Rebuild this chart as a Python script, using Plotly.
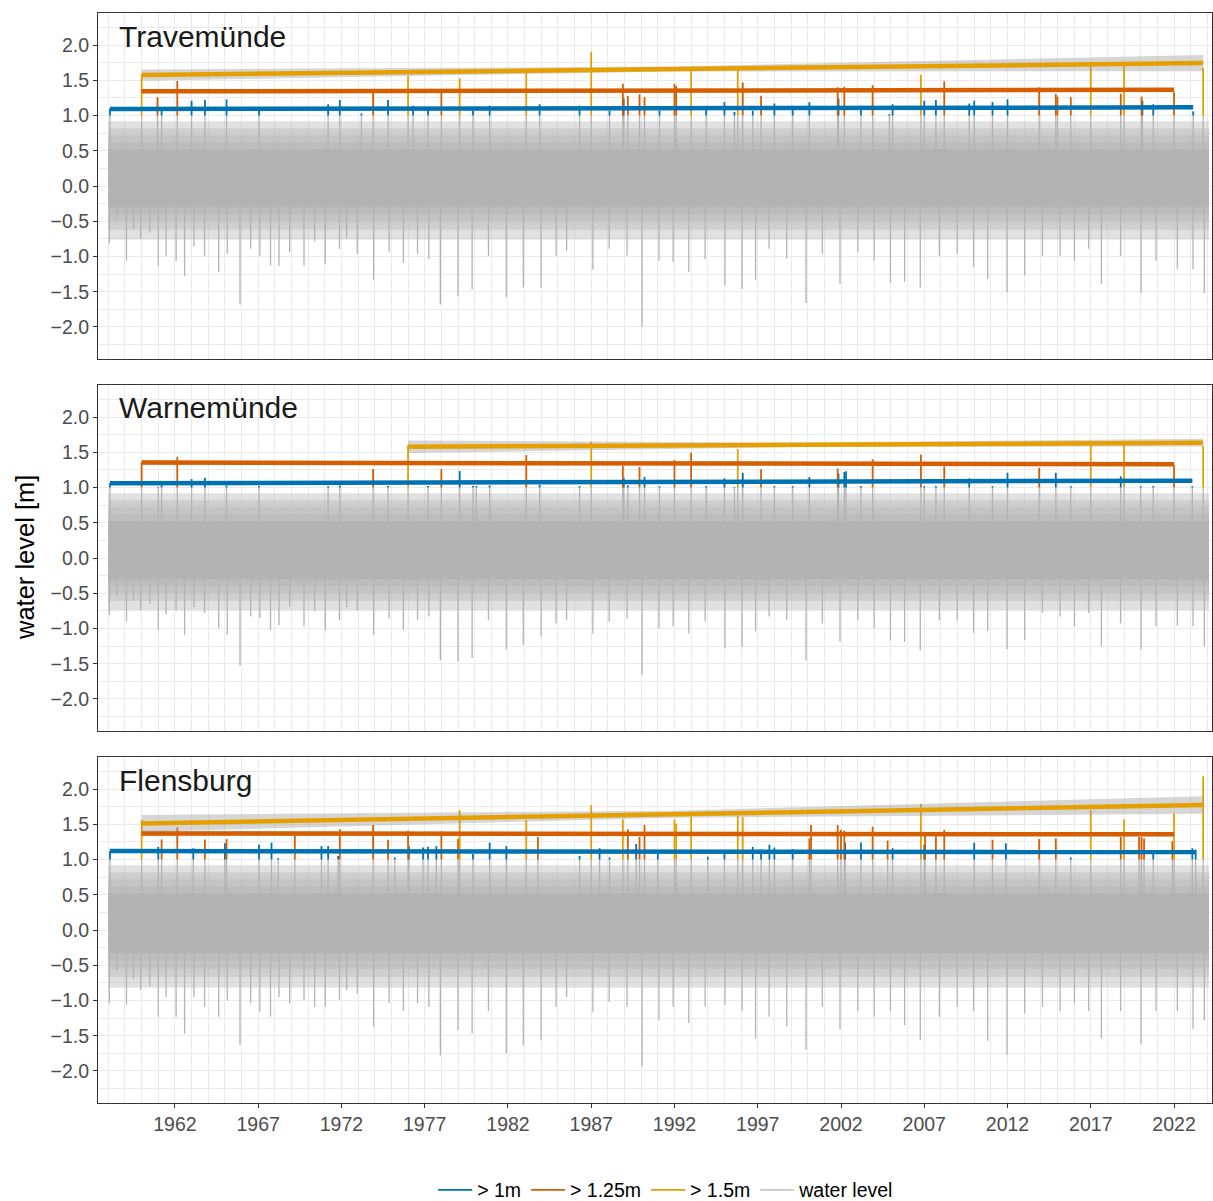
import plotly.graph_objects as go
from plotly.subplots import make_subplots

# ---------------- data ----------------
STATIONS = ["Travemünde", "Warnemünde", "Flensburg"]
X_TICKS = [1962, 1967, 1972, 1977, 1982, 1987, 1992, 1997, 2002, 2007, 2012, 2017, 2022]
SERIES_SPAN = [1958.0, 2024.1]
THRESHOLD = 1.0
CLASS_BREAKS = [1.25, 1.5]
CLASS_NAMES = ["> 1m", "> 1.25m", "> 1.5m"]

# time of the notable low-water spikes (shared reading grid)
low_t = [1958.06, 1958.53, 1959.09, 1959.51, 1959.94, 1960.49, 1961.00, 1961.47, 1962.07, 1962.58,
         1963.14, 1963.78, 1964.63, 1965.14, 1965.91, 1966.55, 1967.10, 1967.74, 1968.25, 1968.89,
         1969.75, 1970.39, 1971.03, 1971.88, 1972.31, 1972.95, 1973.93, 1974.86, 1975.72, 1976.57,
         1977.25, 1977.94, 1979.00, 1979.85, 1980.83, 1981.90, 1982.92, 1983.99, 1984.89, 1985.52,
         1987.10, 1988.08, 1989.15, 1990.05, 1991.07, 1991.92, 1992.86, 1993.84, 1995.03, 1996.06,
         1996.87, 1997.68, 1998.74, 1999.90, 2000.88, 2001.94, 2003.01, 2003.99, 2004.97, 2005.82,
         2006.76, 2007.91, 2008.98, 2009.96, 2010.81, 2011.97, 2013.03, 2014.10, 2015.16, 2016.02,
         2016.87, 2017.64, 2018.79, 2020.02, 2020.92, 2022.20, 2023.14, 2023.82]

trav_low_v = [-0.82, -0.47, -1.06, -0.61, -0.75, -0.66, -1.13, -0.99, -1.06, -1.28,
              -0.85, -0.99, -1.22, -0.96, -1.68, -0.89, -0.99, -1.13, -1.13, -0.94,
              -1.13, -0.78, -1.11, -0.89, -0.75, -0.96, -1.33, -0.94, -1.09, -0.96,
              -1.04, -1.68, -1.56, -1.47, -0.99, -1.58, -1.44, -1.44, -0.99, -0.92,
              -1.19, -0.89, -0.99, -2.00, -1.06, -1.08, -1.22, -1.04, -1.41, -1.46,
              -1.33, -0.89, -1.03, -1.66, -0.96, -1.39, -0.94, -1.06, -1.37, -1.36,
              -1.44, -0.99, -0.96, -1.15, -1.32, -1.51, -1.27, -0.99, -0.99, -1.06,
              -0.89, -1.39, -0.99, -1.52, -1.06, -1.18, -1.18, -1.52]

warn_low_v = [-0.81, -0.55, -0.90, -0.60, -0.74, -0.65, -1.02, -0.80, -0.74, -1.09,
              -0.70, -0.78, -1.00, -1.09, -1.53, -0.83, -0.85, -1.02, -0.95, -0.69,
              -0.97, -0.75, -1.03, -0.88, -0.70, -0.74, -1.09, -0.86, -1.02, -0.88,
              -0.83, -1.45, -1.47, -1.42, -0.88, -1.30, -1.23, -1.11, -0.93, -0.88,
              -1.07, -0.90, -0.86, -1.66, -1.00, -0.97, -1.07, -0.90, -1.28, -1.26,
              -1.04, -0.83, -0.88, -1.45, -0.93, -1.19, -0.88, -1.00, -1.17, -1.19,
              -1.31, -0.88, -0.88, -1.06, -1.04, -1.29, -1.16, -0.78, -0.83, -0.97,
              -0.78, -1.26, -0.93, -1.30, -0.97, -0.96, -0.97, -1.25]

flen_low_v = [-1.04, -0.57, -1.06, -0.70, -0.85, -0.80, -1.23, -0.95, -1.23, -1.47,
              -0.95, -1.09, -1.23, -1.00, -1.63, -1.04, -1.16, -1.23, -0.95, -1.04,
              -0.99, -1.09, -1.09, -0.99, -0.85, -0.90, -1.37, -1.04, -1.15, -1.04,
              -1.09, -1.78, -1.42, -1.47, -1.15, -1.75, -1.64, -1.56, -1.09, -0.95,
              -1.16, -1.02, -1.09, -1.94, -1.28, -1.09, -1.32, -1.09, -1.06, -1.15,
              -1.54, -1.23, -1.37, -1.70, -1.09, -1.41, -1.15, -1.23, -1.15, -1.35,
              -1.56, -1.23, -1.09, -1.15, -1.57, -1.77, -1.18, -1.09, -1.15, -1.04,
              -1.15, -1.54, -1.15, -1.62, -1.15, -1.15, -1.40, -1.28]

# high-water events: time and peak level [m]
trav_evt_t = [1958.1, 1960.0, 1960.95, 1961.2, 1962.14, 1963.0, 1963.8, 1965.1, 1967.05, 1971.2,
              1971.9, 1973.2, 1973.9, 1974.8, 1976.0, 1976.3, 1977.2, 1978.0, 1979.1, 1979.9,
              1980.9, 1983.1, 1983.9, 1986.3, 1987.0, 1988.1, 1988.9, 1988.95, 1989.2, 1989.9,
              1990.2, 1991.1, 1992.0, 1992.1, 1993.0, 1993.9, 1995.0, 1995.6, 1995.8, 1996.1,
              1996.7, 1997.2, 1998.0, 1999.1, 2000.1, 2001.8, 2001.85, 2002.2, 2003.2, 2003.9,
              2004.9, 2005.1, 2006.8, 2007.0, 2007.7, 2008.2, 2009.7, 2010.0, 2011.1, 2012.0,
              2013.9, 2014.9, 2015.0, 2015.8, 2017.0, 2018.8, 2019.0, 2020.05, 2020.1, 2020.75,
              2022.0, 2023.15, 2023.75]
trav_evt_v = [1.10, 1.58, 1.26, 1.12, 1.49, 1.21, 1.22, 1.23, 1.12, 1.16,
              1.22, 1.03, 1.32, 1.22, 1.565, 1.14, 1.12, 1.34, 1.53, 1.07,
              1.14, 1.60, 1.16, 1.14, 1.905, 1.07, 1.45, 1.24, 1.28, 1.30,
              1.26, 1.07, 1.45, 1.42, 1.63, 1.12, 1.19, 1.05, 1.68, 1.47,
              1.07, 1.28, 1.17, 1.08, 1.19, 1.40, 1.24, 1.41, 1.14, 1.43,
              1.02, 1.16, 1.58, 1.21, 1.22, 1.485, 1.17, 1.21, 1.19, 1.23,
              1.40, 1.305, 1.27, 1.26, 1.76, 1.31, 1.70, 1.27, 1.21, 1.16,
              1.33, 1.06, 1.68]

warn_evt_t = [1958.1, 1960.0, 1961.0, 1961.2, 1962.14, 1963.0, 1963.8, 1965.1, 1967.05, 1971.2,
              1971.9, 1973.9, 1974.8, 1976.0, 1977.2, 1978.0, 1979.1, 1979.9, 1980.1, 1980.9,
              1983.1, 1983.9, 1986.3, 1987.0, 1988.9, 1988.95, 1989.2, 1989.9, 1990.2, 1991.1,
              1992.0, 1993.0, 1993.9, 1995.0, 1995.6, 1995.8, 1996.1, 1997.2, 1998.0, 1999.1,
              2000.1, 2001.8, 2001.85, 2002.2, 2002.3, 2003.2, 2003.9, 2006.8, 2007.0, 2007.7,
              2008.2, 2009.7, 2011.1, 2012.0, 2013.9, 2014.9, 2015.8, 2017.0, 2018.8, 2019.0,
              2020.0, 2020.75, 2022.0, 2023.1, 2023.75]
warn_evt_v = [1.06, 1.36, 1.01, 1.04, 1.437, 1.12, 1.14, 1.03, 1.02, 1.02,
              1.03, 1.262, 1.02, 1.60, 1.02, 1.26, 1.234, 1.02, 1.02, 1.03,
              1.46, 1.04, 1.02, 1.65, 1.31, 1.14, 1.03, 1.29, 1.15, 1.02,
              1.39, 1.494, 1.02, 1.13, 1.01, 1.546, 1.21, 1.26, 1.02, 1.02,
              1.15, 1.27, 1.20, 1.22, 1.23, 1.02, 1.40, 1.47, 1.02, 1.02,
              1.30, 1.13, 1.02, 1.21, 1.28, 1.21, 1.02, 1.66, 1.16, 1.66,
              1.02, 1.02, 1.32, 1.02, 1.59]

flen_evt_t = [1958.1, 1960.0, 1961.0, 1961.2, 1962.14, 1963.1, 1963.8, 1965.0, 1965.1, 1967.05,
              1967.8, 1968.2, 1969.2, 1970.8, 1971.2, 1971.8, 1971.9, 1973.9, 1974.8, 1975.2,
              1976.0, 1976.05, 1976.9, 1977.2, 1977.7, 1978.0, 1979.0, 1979.1, 1979.9, 1980.9,
              1981.9, 1983.1, 1983.8, 1986.3, 1987.0, 1987.5, 1988.1, 1988.9, 1989.2, 1989.7,
              1989.9, 1990.2, 1991.0, 1992.0, 1992.1, 1993.0, 1994.0, 1995.0, 1995.8, 1996.1,
              1996.7, 1997.2, 1997.7, 1998.0, 1999.1, 2000.1, 2000.2, 2001.8, 2002.0, 2002.2,
              2002.25, 2003.2, 2003.9, 2004.8, 2005.1, 2006.8, 2007.0, 2007.05, 2007.7, 2008.2,
              2010.0, 2011.1, 2011.9, 2013.9, 2014.9, 2015.8, 2017.0, 2018.8, 2019.0, 2019.9,
              2020.05, 2020.2, 2020.75, 2021.9, 2022.0, 2023.1, 2023.3, 2023.75]
flen_evt_v = [1.12, 1.56, 1.18, 1.286, 1.456, 1.16, 1.286, 1.23, 1.29, 1.21,
              1.24, 1.02, 1.34, 1.19, 1.19, 1.05, 1.43, 1.49, 1.28, 1.03,
              1.41, 1.19, 1.17, 1.18, 1.19, 1.40, 1.29, 1.70, 1.08, 1.24,
              1.19, 1.56, 1.32, 1.05, 1.773, 1.16, 1.03, 1.57, 1.43, 1.22,
              1.32, 1.49, 1.09, 1.57, 1.51, 1.61, 1.04, 1.09, 1.62, 1.60,
              1.18, 1.14, 1.21, 1.17, 1.15, 1.30, 1.49, 1.49, 1.42, 1.41,
              1.24, 1.24, 1.465, 1.27, 1.16, 1.787, 1.21, 1.38, 1.33, 1.42,
              1.24, 1.28, 1.23, 1.29, 1.30, 1.03, 1.70, 1.32, 1.57, 1.32,
              1.32, 1.30, 1.09, 1.26, 1.655, 1.16, 1.14, 2.18]

# water-level density bands [low, high], from the solid core outwards
trav_bands = [[-0.30, 0.52], [-0.40, 0.62], [-0.50, 0.72], [-0.62, 0.82], [-0.76, 0.92]]
warn_bands = [[-0.30, 0.52], [-0.40, 0.62], [-0.50, 0.72], [-0.61, 0.82], [-0.74, 0.92]]
flen_bands = [[-0.33, 0.52], [-0.44, 0.62], [-0.55, 0.72], [-0.67, 0.82], [-0.82, 0.92]]

# linear trends per class: [start, end] time, [start, end] level, CI half-width [start, mid, end]
trav_b_t, trav_b_v, trav_b_ci = [1958.1, 2023.15], [1.092, 1.116], [0.012, 0.006, 0.012]
trav_o_t, trav_o_v, trav_o_ci = [1960.0, 2022.0], [1.343, 1.366], [0.025, 0.012, 0.025]
trav_y_t, trav_y_v, trav_y_ci = [1960.0, 2023.75], [1.574, 1.745], [0.08, 0.035, 0.115]
warn_b_t, warn_b_v, warn_b_ci = [1958.1, 2023.1], [1.060, 1.097], [0.012, 0.006, 0.012]
warn_o_t, warn_o_v, warn_o_ci = [1960.0, 2022.0], [1.355, 1.330], [0.028, 0.012, 0.022]
warn_y_t, warn_y_v, warn_y_ci = [1976.0, 2023.75], [1.579, 1.636], [0.09, 0.03, 0.055]
flen_b_t, flen_b_v, flen_b_ci = [1958.1, 2023.3], [1.120, 1.106], [0.014, 0.007, 0.014]
flen_o_t, flen_o_v, flen_o_ci = [1960.0, 2022.0], [1.371, 1.357], [0.04, 0.015, 0.03]
flen_y_t, flen_y_v, flen_y_ci = [1960.0, 2023.75], [1.513, 1.773], [0.12, 0.05, 0.125]

# ---------------- style ----------------
COLORS = ["#0072B2", "#D55E00", "#E69F00"]
GRAY = "#B3B3B3"
BAND_FILL = "rgba(179,179,179,0.40)"
RIBBON = "rgba(153,153,153,0.40)"
FONT = "Liberation Sans, Arial, Helvetica, sans-serif"

panels = [
    dict(low=trav_low_v, et=trav_evt_t, ev=trav_evt_v, bands=trav_bands,
         trends=[(trav_b_t, trav_b_v, trav_b_ci), (trav_o_t, trav_o_v, trav_o_ci), (trav_y_t, trav_y_v, trav_y_ci)]),
    dict(low=warn_low_v, et=warn_evt_t, ev=warn_evt_v, bands=warn_bands,
         trends=[(warn_b_t, warn_b_v, warn_b_ci), (warn_o_t, warn_o_v, warn_o_ci), (warn_y_t, warn_y_v, warn_y_ci)]),
    dict(low=flen_low_v, et=flen_evt_t, ev=flen_evt_v, bands=flen_bands,
         trends=[(flen_b_t, flen_b_v, flen_b_ci), (flen_o_t, flen_o_v, flen_o_ci), (flen_y_t, flen_y_v, flen_y_ci)]),
]


def klass(v):
    if v > CLASS_BREAKS[1]:
        return 2
    if v > CLASS_BREAKS[0]:
        return 1
    return 0


def segs(ts, lo, hi):
    xs, ys = [], []
    for t, a, b in zip(ts, lo, hi):
        xs += [t, t, None]
        ys += [a, b, None]
    return xs, ys


fig = make_subplots(rows=3, cols=1, shared_xaxes=True, vertical_spacing=26 / 1090)

for i, p in enumerate(panels):
    row = i + 1
    first = i == 0
    t0, t1 = SERIES_SPAN
    # water-level density bands (outer first); the core is solid
    for j, band in reversed(list(enumerate(p["bands"]))):
        col = GRAY if j == 0 else BAND_FILL
        fig.add_trace(go.Scatter(x=[t0, t1, t1, t0, t0], y=[band[1], band[1], band[0], band[0], band[1]],
                                 mode="lines", fill="toself", fillcolor=col, line=dict(width=0),
                                 showlegend=False, hoverinfo="skip"), row=row, col=1)
    core = p["bands"][0]
    # low spikes
    xs, ys = segs(low_t, [core[1]] * len(low_t), p["low"])
    fig.add_trace(go.Scatter(x=xs, y=ys, mode="lines", line=dict(color=GRAY, width=1.3),
                             name="water level", legendrank=4, showlegend=first,
                             hoverinfo="skip"), row=row, col=1)
    # gray part of high events
    xs, ys = segs(p["et"], [core[0]] * len(p["et"]), [THRESHOLD] * len(p["et"]))
    fig.add_trace(go.Scatter(x=xs, y=ys, mode="lines", line=dict(color=GRAY, width=1.3),
                             showlegend=False, hoverinfo="skip"), row=row, col=1)
    # colored exceedance spikes
    for k in range(3):
        sel = [(t, v) for t, v in zip(p["et"], p["ev"]) if klass(v) == k]
        ts = [s[0] for s in sel]
        vs = [s[1] for s in sel]
        xs, ys = segs(ts, [THRESHOLD] * len(ts), vs)
        fig.add_trace(go.Scatter(x=xs, y=ys, mode="lines", line=dict(color=COLORS[k], width=1.8),
                                 name=CLASS_NAMES[k], legendrank=k + 1, showlegend=first,
                                 hoverinfo="skip"), row=row, col=1)
    # trends with confidence ribbons
    for k, (tt, vv, ci) in enumerate(p["trends"]):
        tm = (tt[0] + tt[1]) / 2
        vm = (vv[0] + vv[1]) / 2
        xr = [tt[0], tm, tt[1], tt[1], tm, tt[0], tt[0]]
        yr = [vv[0] + ci[0], vm + ci[1], vv[1] + ci[2], vv[1] - ci[2], vm - ci[1], vv[0] - ci[0], vv[0] + ci[0]]
        fig.add_trace(go.Scatter(x=xr, y=yr, mode="lines", fill="toself", fillcolor=RIBBON,
                                 line=dict(width=0), showlegend=False, hoverinfo="skip"), row=row, col=1)
    for k, (tt, vv, ci) in enumerate(p["trends"]):
        fig.add_trace(go.Scatter(x=tt, y=vv, mode="lines", line=dict(color=COLORS[k], width=4.5),
                                 showlegend=False, hoverinfo="skip"), row=row, col=1)

    fig.add_annotation(text=STATIONS[i], xref=f"x{'' if row == 1 else row} domain",
                       yref=f"y{'' if row == 1 else row} domain", x=0.017, y=1 - 23 / 346,
                       xanchor="left", yanchor="middle", showarrow=False,
                       font=dict(size=30, color="#1A1A1A", family=FONT))

axis_common = dict(showline=True, mirror=True, linecolor="#333333", linewidth=1,
                   showgrid=True, gridcolor="#EBEBEB", gridwidth=1.1, zeroline=False,
                   tickfont=dict(size=19.5, color="#4D4D4D", family=FONT),
                   tickcolor="#333333", tickwidth=1, ticklen=4)

for row in range(1, 4):
    fig.update_yaxes(range=[-2.455, 2.455], tickmode="linear", tick0=0, dtick=0.5, tickformat=".1f",
                     ticks="outside", minor=dict(dtick=0.25, tick0=0, showgrid=True, gridcolor="#EBEBEB",
                                                 gridwidth=0.55),
                     **axis_common, row=row, col=1)
    fig.update_xaxes(range=[1957.38, 2024.28], tickmode="array", tickvals=X_TICKS,
                     ticktext=[str(y) for y in X_TICKS],
                     ticks="outside" if row == 3 else "", showticklabels=(row == 3),
                     minor=dict(dtick=1, tick0=1962, showgrid=True, gridcolor="#EBEBEB", gridwidth=0.55),
                     **axis_common, row=row, col=1)

fig.add_annotation(text="water level [m]", xref="paper", yref="paper", x=-73 / 1114, y=0.5,
                   textangle=-90, showarrow=False, xanchor="center", yanchor="middle",
                   font=dict(size=25.5, color="#000000", family=FONT))

fig.update_layout(
    width=1213, height=1201,
    margin=dict(l=98, r=1, t=13, b=98, autoexpand=False),
    paper_bgcolor="white", plot_bgcolor="white",
    font=dict(family=FONT),
    legend=dict(orientation="h", x=0.51, xanchor="center", y=-0.08, yanchor="middle",
                font=dict(size=19.5, color="#000000", family=FONT), itemwidth=34,
                bgcolor="rgba(0,0,0,0)"),
)

fig.write_html("out.html", config={"displayModeBar": False},
               post_script="document.body.style.margin='0px';")
